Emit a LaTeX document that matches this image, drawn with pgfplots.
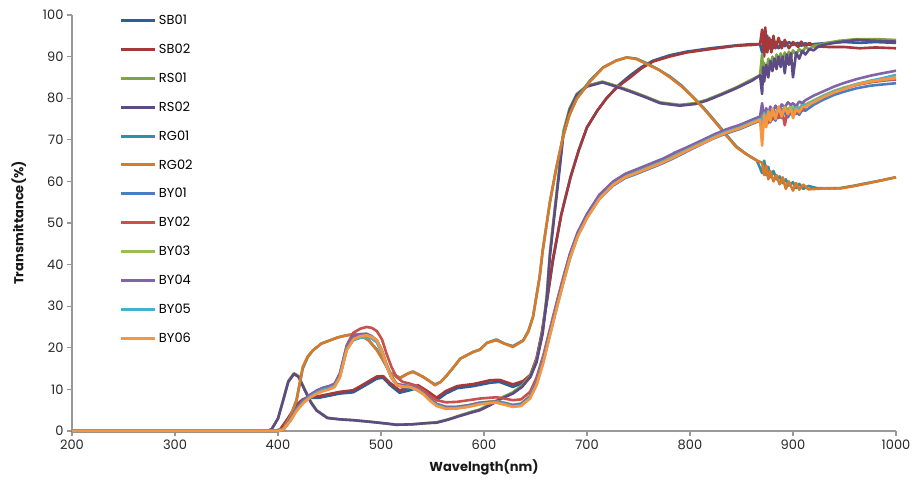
\documentclass[border=0pt]{standalone}
\usepackage{pgfplots}
\usepackage{pgfplotstable}
\usepackage{fontspec}
\setmainfont{Poppins}
\pgfplotsset{compat=1.18}

\definecolor{cSBa}{HTML}{2F5F98}
\definecolor{cSBb}{HTML}{A5393A}
\definecolor{cRSa}{HTML}{7EA443}
\definecolor{cRSb}{HTML}{5E4A85}
\definecolor{cRGa}{HTML}{2E8FA6}
\definecolor{cRGb}{HTML}{D77A2A}
\definecolor{cBYa}{HTML}{4A7EC3}
\definecolor{cBYb}{HTML}{C8504D}
\definecolor{cBYc}{HTML}{98BE55}
\definecolor{cBYd}{HTML}{8064A8}
\definecolor{cBYe}{HTML}{45B0CF}
\definecolor{cBYf}{HTML}{F7963F}

% SB group
\pgfplotstableread{
x sba sbb
200 0 0
395 0 0
402 0.3 0.3
410 3 3.2
418 6 6.3
424 7.4 7.6
432 8 8.3
440 8 8.4
450 8.5 8.9
460 9 9.4
473 9.3 9.8
485 11 11.5
496 12.6 13.1
502 12.8 13.2
509 11 11.5
518 9.2 9.8
528 9.8 10.4
536 10.4 11
545 9 9.6
554 7.4 8
563 9 9.6
574 10.3 10.8
590 10.8 11.3
606 11.6 12.2
615 11.8 12.3
628 10.6 11.2
638 11.6 12
645 13 13.5
651 17 17.5
656 23 23.5
661 31 31.5
667 41 41.5
675 52 52
684 61 61
692 67.5 67.5
700 73 73
710 77 77
719 80 80
730 83 82.8
742 85.5 85
753 87.5 87.2
764 89 88.8
780 90.3 90
797 91.2 91
820 92 91.8
845 92.7 92.6
860 93 92.8
868 93 93
870 91 96.5
872 94 90
873 92 97
875 95 91
877 92 94.5
879 94 91
881 92 95
883 93.5 92
886 92 94.5
889 93.5 92
892 92.5 94
896 93.5 92
900 92.8 93.5
905 93.3 92.3
908 92.6 93.6
912 93.2 92.4
916 92.8 93.3
920 93 92.5
935 93.3 92.3
950 93.5 92.3
965 93.3 92
980 93.5 92.2
1000 93.3 92
}\tabSB

% RS group
\pgfplotstableread{
x rsa rsb
200 0 0
390 0 0
394 0.5 0.5
400 3 3
405 7.5 7.3
410 12 11.8
415.5 13.9 13.7
420 13.2 13
426 10 9.8
432 7 6.8
437.5 5 4.9
448 3.2 3.1
460 2.8 2.8
473 2.6 2.6
490 2.2 2.2
505 1.8 1.8
515 1.5 1.5
530 1.6 1.6
545 1.9 1.9
554 2.1 2
565 2.8 2.7
575 3.6 3.5
586 4.5 4.3
596 5.2 5
606 6.5 6.2
617 8 7.8
628 9.3 9
637 11 10.6
645 13.3 13
651 17 16.5
657 24 23.5
661 33 32
664 43 42
668 52 51
673 63 62
677 72 71
683 77.5 77
690 81 80.8
700 83 82.8
715 84 83.8
728 83 82.8
742 81.8 81.6
756 80.5 80.3
771 79 78.8
790 78.4 78.2
805 78.8 78.6
816 79.6 79.4
830 81 80.8
845 82.6 82.4
860 84.5 84.2
868 85.5 85.5
870 90.6 81
871 86 87.5
872 88.5 84
874 86 88
876 89.5 85
878 87 89
880 90 86.5
882 88 89.5
884 90.5 87
886 88.5 90
888 90.8 87.5
890 89 90
892 91 86
894 89.5 90.5
896 91.2 88
898 90 90.8
900 91.5 85
903 90.5 91
906 91.8 89.5
909 91 91.4
912 92.2 90.5
916 91.8 91.8
920 92.6 91.5
925 92.8 92.5
933 93.3 93
945 93.8 93.5
962 94.2 94
980 94.2 93.8
1000 94 93.6
}\tabRS

% RG group
\pgfplotstableread{
x rga rgb
200 0 0
398 0 0
405 0.5 0.5
412 3.5 3.5
418 7.4 7.4
424 15 15.4
429 17.8 18
434 19.4 19.4
442 21 21
450.5 21.8 21.8
458 22.5 22.5
466.7 23 23
474 23.3 23.3
480 23 23
488 21.8 21.8
496 19.6 19.4
502 17 17
509 14 13.8
518.5 12.8 12.7
526 13.8 13.8
531 14.3 14.2
541 13 13
547 12 12
552.4 11.2 11
558 11.8 11.8
564 13.4 13.4
571 15.5 15.5
577 17.4 17.4
589.5 19 19
596 19.6 19.5
603 21.2 21.2
612 22 21.8
620 21 21
628 20.4 20.2
638 21.8 21.7
643 24 23.8
647.6 27.5 27.4
654 37 37
657 43.4 43.4
664 55 55
670 63 63
677 71 71
683 76 76
690 80 79.8
703 84.3 84
715.5 87.4 87.3
728 89 89
738.5 89.8 89.8
748 89.5 89.4
758 88.4 88.2
770 86.8 86.8
780.6 85.2 85
792 83 82.8
803 80.3 80.2
815 77.2 77
826 74 73.8
836 71 70.8
845 68.4 68.2
855 66.5 66.5
865 65 65
870 62 64.5
872 65 61.5
874 61.5 63.8
876 63.5 60.5
878 61 62.5
881 62.5 60
884 60.5 61.5
887 61.2 59.3
890 59.6 61
893 60.5 58.2
896 59 60
900 59.8 57.8
903 58.4 59.6
906 59.4 58
910 58.2 59.2
915 58.9 58.1
923 58.4 58.2
935 58.3 58.4
946 58.4 58.3
960 59 58.9
972 59.6 59.5
985 60.2 60.2
1000 61 61
}\tabRG

% BY group
\pgfplotstableread{
x bya byb byc byd bye byf
200 0 0 0 0 0 0
400 0 0 0 0 0 0
405 0.3 0.3 0.3 0.3 0.3 0.3
412 2.5 2.7 2.6 2.8 2.5 2.4
418 5 5.3 5.2 5.5 5 4.8
425 7 7.4 7.2 7.5 7 6.8
431 8.2 8.6 8.4 8.7 8.2 8
438 9.2 9.7 9.5 9.8 9.3 9
444 9.8 10.4 10.1 10.4 9.9 9.6
450 10.2 10.8 10.5 10.8 10.3 10
455 10.8 11.4 11 11.3 10.8 10.6
460 13 13.8 13.3 13.6 13 12.8
466.7 19.5 20.6 19.8 20.3 19.6 19.4
473 22 23.6 22.2 22.8 21.8 22
480 22.6 24.6 22.8 23.3 22.4 22.8
486 22.8 25 23 23.4 22.6 23
491 22.4 24.8 22.6 22.8 22.2 22.6
496 21.5 24 21.8 21.8 21.3 21.8
501 19 22 19.4 19.2 18.8 19.2
505.5 15.6 18.5 16 15.8 15.4 15.6
510 13 15.5 13.4 13.2 12.8 13
515 11.2 13 11.4 11.3 11 11.1
521 10.8 11.8 11 11 10.6 10.7
528 10.6 11.4 10.8 10.8 10.5 10.6
535 10 10.8 10.2 10.2 9.8 9.9
541 9 9.8 9.2 9.2 8.9 8.9
547 7.6 8.6 7.8 7.8 7.5 7.4
554 6.3 7.4 6.5 6.5 6.2 6
563 5.6 6.9 5.8 5.8 5.5 5.3
573.5 5.6 7 5.8 5.8 5.5 5.4
585 6 7.4 6.2 6.2 5.9 5.8
596 6.6 7.8 6.8 6.8 6.5 6.4
606 6.9 8 7.1 7 6.8 6.7
612 7 8.1 7.2 7.1 6.9 6.8
620 6.6 7.8 6.8 6.7 6.5 6.3
628 6 7.4 6.3 6.2 5.9 5.8
636 6.3 7.6 6.6 6.5 6.2 6
644.7 8.2 9.4 8.4 8.3 8 7.8
651 11.5 12.8 11.8 11.8 11.2 11
657.6 17 18.2 17.4 17.4 16.6 16.4
664 23.5 24.5 24 24 23 23
670.6 30 31 30.5 30.5 29.5 29.5
677 36 37 36.6 36.6 35.6 35.6
683.5 41.8 42.6 42.4 42.6 41.4 41.6
691 47 47.6 47.6 47.8 46.8 46.8
700 51.4 51.8 52 52.2 51.2 51.2
712 55.8 56.2 56.5 56.8 55.8 55.8
725.5 59 59.4 59.8 60 59.2 59.2
737 60.8 61.2 61.6 61.8 61 61
748 61.8 62.2 62.6 62.9 62.2 62
760 63 63.4 63.8 64.1 63.3 63.2
774 64.4 64.8 65.2 65.5 64.8 64.6
786 65.8 66.2 66.6 67 66.2 66
797 67.2 67.5 67.8 68.2 67.6 67.4
810 68.8 69 69.3 69.7 69.1 68.9
822.6 70.3 70.6 70.8 71.2 70.6 70.4
835 71.5 71.9 72 72.5 71.9 71.7
848.5 72.6 73 73.2 73.6 73 72.8
860 73.8 74.2 74.3 74.8 74.2 74
868 74.6 75 75.1 75.6 75 74.8
870 72 76 77.5 78.8 74 68.6
872 75.5 73.5 74.5 75 76.5 76
874 73.5 75.8 76.8 77.6 74.5 73
876 75.8 74 75 76.2 77 76.8
878 74.2 76.2 77 78 75.3 74.5
880 76 74.8 75.8 76.5 77.2 77.5
883 74.6 76.8 76.5 78.2 76 75
886 76.4 75.2 77.8 77 77.6 78
889 75.2 77.5 76.4 78.5 76.4 75.6
892 76.8 73.5 78 77.8 78 77.8
895 75.4 77.2 77.2 79 76.8 76.2
898 76.6 76.4 78.2 78.4 77.6 77.6
900 75.8 77 77.5 78.8 77 75.2
903 76.8 76.2 78.4 78 77.9 77.4
906 76 77.6 77.4 79.2 77.1 76.6
909 77.2 77 78.6 78.8 78.3 77.8
912 77 78 78.5 79.5 78.2 78
920 78.4 79 79.5 80.6 79.2 79
929 79.6 80.2 80.6 81.6 80.4 80.2
940 80.8 81.4 81.8 82.8 81.6 81.4
950 81.6 82.3 82.6 83.7 82.4 82.2
962 82.4 83.2 83.4 84.6 83.4 83.3
975 83 83.8 84 85.4 84.2 84
987 83.3 84.2 84.4 86 84.8 84.5
1000 83.6 84.5 84.8 86.6 85.6 85
}\tabBY

\begin{document}
\begin{tikzpicture}
\begin{axis}[
    name=ax,
    scale only axis,
    width=824pt, height=416pt,
    xmin=200, xmax=1000, ymin=0, ymax=100,
    xtick={200,300,...,1000},
    ytick={0,10,...,100},
    axis x line*=bottom, axis y line*=left,
    axis line style={draw=black!40, line width=1.4pt},
    tick style={draw=black!40, line width=1.2pt},
    tick align=outside, major tick length=5pt,
    ticklabel style={font=\fontsize{13}{15}\selectfont, text=black!85},
    /pgf/number format/assume math mode=true,
    /pgf/number format/set thousands separator={},
    xlabel={Wavelngth(nm)},
    ylabel={Transmittance(\%)},
    label style={font=\bfseries\fontsize{13}{15}\selectfont, text=black!90},
    xlabel style={yshift=-3pt},
    ylabel style={yshift=10pt},
    clip=false,
    legend cell align=left,
    legend style={draw=none, fill=none, at={(rel axis cs:0.058,1.006)}, anchor=north west,
        font=\fontsize{13}{15}\selectfont, row sep=13.9pt, inner sep=0pt},
    legend image code/.code={\draw[#1, line width=3pt] plot coordinates {(0pt,0pt) (34pt,0pt)};},
    every axis plot/.append style={line width=2.6pt, line join=round, mark=none},
]
\addplot[cSBa] table[x=x, y=sba] {\tabSB};
\addlegendentry{SB01}
\addplot[cSBb] table[x=x, y=sbb] {\tabSB};
\addlegendentry{SB02}
\addplot[cRSa] table[x=x, y=rsa] {\tabRS};
\addlegendentry{RS01}
\addplot[cRSb] table[x=x, y=rsb] {\tabRS};
\addlegendentry{RS02}
\addplot[cRGa] table[x=x, y=rga] {\tabRG};
\addlegendentry{RG01}
\addplot[cRGb] table[x=x, y=rgb] {\tabRG};
\addlegendentry{RG02}
\addplot[cBYa] table[x=x, y=bya] {\tabBY};
\addlegendentry{BY01}
\addplot[cBYb] table[x=x, y=byb] {\tabBY};
\addlegendentry{BY02}
\addplot[cBYc] table[x=x, y=byc] {\tabBY};
\addlegendentry{BY03}
\addplot[cBYd] table[x=x, y=byd] {\tabBY};
\addlegendentry{BY04}
\addplot[cBYe] table[x=x, y=bye] {\tabBY};
\addlegendentry{BY05}
\addplot[cBYf] table[x=x, y=byf] {\tabBY};
\addlegendentry{BY06}
\end{axis}
\path ([shift={(-72pt,-53pt)}]ax.south west) rectangle ([shift={(20pt,15pt)}]ax.north east);
\end{tikzpicture}
\end{document}
